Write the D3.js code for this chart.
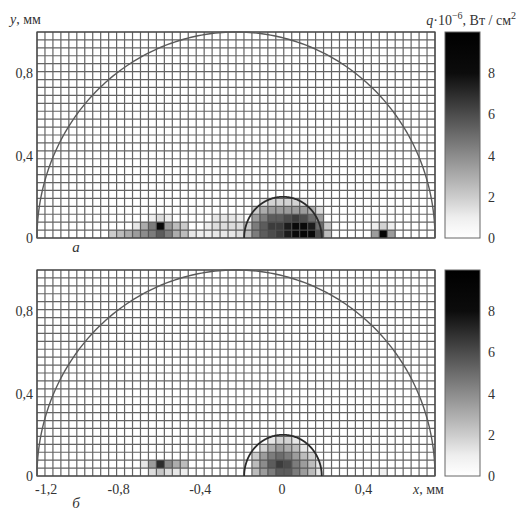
<!DOCTYPE html>
<html><head><meta charset="utf-8">
<script src="https://cdn.jsdelivr.net/npm/d3@7"></script>
<style>
html,body{margin:0;padding:0;background:#fff;}
svg{display:block;}
text{font-family:"Liberation Serif","DejaVu Serif",serif;fill:#333;}
</style></head>
<body>
<svg id="chart" width="517" height="517"></svg>
<script>
// ---- data ----
const xDomain = [-1.2, 0.75];
const yDomain = [0, 1.0];
const nCols = 50, nRows = 26;
const xTicks = [-1.2, -0.8, -0.4, 0, 0.4];
const xTickLabels = ["-1,2", "-0,8", "-0,4", "0", "0,4"];
const yTicks = [0, 0.4, 0.8];
const yTickLabels = ["0", "0,4", "0,8"];
const cbTicks = [0, 2, 4, 6, 8];
const cbDomain = [0, 10];
const panelLetters = ["а", "б"];
// outer semicircle (centre x, radius in x, radius in y) and inner one
const bigArc = {cx: -0.225, rx: 0.975, ry: 1.0};
const smallArc = {cx: 0.005, rx: 0.19, ry: 0.2};
// [column, row, q*1e-6] for shaded cells (others are 0)
const cellsA = [
  [9,0,2],[10,0,2.5],[11,0,3],[12,0,3.5],[13,0,4],[14,0,4.5],[15,0,5.5],[16,0,4.5],[17,0,3],[18,0,2.5],[19,0,1.2],
  [12,1,1.2],[13,1,3],[14,1,4.5],[15,1,8.5],[16,1,3.5],[17,1,2.5],[18,1,2],
  [14,2,1],[15,2,1.5],[16,2,1],
  [20,0,1],[21,0,1],[22,0,1.2],[23,0,1.2],[24,0,1.2],[25,0,1.5],
  [21,1,1],[22,1,1.5],[23,1,1.5],[24,1,1.5],[25,1,1.5],
  [22,2,1.2],[23,2,1.2],[24,2,1.2],[25,2,1],
  [26,0,2.5],[27,0,4.5],[28,0,5.5],[29,0,6],[30,0,6.5],[31,0,7.5],[32,0,8.5],[33,0,9],[34,0,8.5],[35,0,6],[36,0,2.5],
  [26,1,2],[27,1,4.5],[28,1,5.5],[29,1,6.5],[30,1,6.5],[31,1,7.5],[32,1,8.5],[33,1,8.5],[34,1,7.5],[35,1,5],[36,1,2],
  [27,2,3.5],[28,2,4.5],[29,2,5.5],[30,2,5.5],[31,2,6],[32,2,6.5],[33,2,6],[34,2,5],[35,2,3.5],
  [27,3,2],[28,3,3],[29,3,3.5],[30,3,3.5],[31,3,3.5],[32,3,3.5],[33,3,3.5],[34,3,3],[35,3,1.5],
  [28,4,1.2],[29,4,1.8],[30,4,1.8],[31,4,1.8],[32,4,1.8],[33,4,1.2],
  [42,0,3.5],[43,0,9.5],[44,0,3.5],[42,1,1],[43,1,1.8],[44,1,1]
];
const cellsB = [
  [14,0,1.5],[15,0,2.2],[16,0,1.5],[17,0,1.2],[18,0,1],
  [13,1,1.2],[14,1,3.5],[15,1,7],[16,1,4],[17,1,3],[18,1,2.5],
  [27,0,2.5],[28,0,3.5],[29,0,4.5],[30,0,5.5],[31,0,5.5],[32,0,4.5],[33,0,3.5],[34,0,2.5],[35,0,1.2],
  [27,1,2.5],[28,1,4],[29,1,5.5],[30,1,6.5],[31,1,6],[32,1,4.5],[33,1,3.5],[34,1,2.5],[35,1,1.2],
  [27,2,2],[28,2,3.5],[29,2,4.5],[30,2,5],[31,2,4.5],[32,2,3.5],[33,2,2.5],[34,2,1.8],
  [28,3,1.8],[29,3,3],[30,3,3.5],[31,3,3],[32,3,2.5],[33,3,1.2],
  [29,4,1.2],[30,4,1.8],[31,4,1.8],[32,4,1.2],
  [43,0,0.8]
];

// ---- drawing ----
const svg = d3.select("#chart");
const colour = d3.scaleLinear()
  .domain([0, 1, 2, 4, 6, 8, 10])
  .range(["#ffffff", "#eeeeee", "#cccccc", "#8c8c8c", "#4c4c4c", "#0c0c0c", "#000000"])
  .clamp(true);

const panels = [
  {cells: cellsA, top: 32, bottom: 238, letter: panelLetters[0], letterY: 252, showX: false},
  {cells: cellsB, top: 270, bottom: 476, letter: panelLetters[1], letterY: 508, showX: true}
];
const plotLeft = 37, plotRight = 435;
const cbLeft = 445, cbRight = 480;

const defs = svg.append("defs");
const grad = defs.append("linearGradient").attr("id", "cbgrad")
  .attr("x1", 0).attr("x2", 0).attr("y1", 1).attr("y2", 0);
d3.range(0, 10.01, 0.5).forEach(v => {
  grad.append("stop").attr("offset", v / 10).attr("stop-color", colour(v));
});

panels.forEach((p, pi) => {
  const x = d3.scaleLinear().domain(xDomain).range([plotLeft, plotRight]);
  const y = d3.scaleLinear().domain(yDomain).range([p.bottom, p.top]);
  const dx = (xDomain[1] - xDomain[0]) / nCols;
  const dy = (yDomain[1] - yDomain[0]) / nRows;
  const g = svg.append("g");

  g.append("g").selectAll("rect").data(p.cells).join("rect")
    .attr("x", d => x(xDomain[0] + d[0] * dx))
    .attr("y", d => y(yDomain[0] + (d[1] + 1) * dy))
    .attr("width", d => x(xDomain[0] + (d[0] + 1) * dx) - x(xDomain[0] + d[0] * dx))
    .attr("height", d => y(yDomain[0] + d[1] * dy) - y(yDomain[0] + (d[1] + 1) * dy))
    .attr("fill", d => colour(d[2]));

  const grid = g.append("g").attr("stroke", "#4a4a4a").attr("stroke-width", 1.2).attr("opacity", 0.85);
  grid.selectAll("line.v").data(d3.range(nCols + 1)).join("line").attr("class", "v")
    .attr("x1", i => x(xDomain[0] + i * dx)).attr("x2", i => x(xDomain[0] + i * dx))
    .attr("y1", y(yDomain[0])).attr("y2", y(yDomain[1]));
  grid.selectAll("line.h").data(d3.range(nRows + 1)).join("line").attr("class", "h")
    .attr("y1", j => y(yDomain[0] + j * dy)).attr("y2", j => y(yDomain[0] + j * dy))
    .attr("x1", x(xDomain[0])).attr("x2", x(xDomain[1]));

  g.append("rect").attr("x", x(xDomain[0])).attr("y", y(yDomain[1]))
    .attr("width", x(xDomain[1]) - x(xDomain[0])).attr("height", y(yDomain[0]) - y(yDomain[1]))
    .attr("fill", "none").attr("stroke", "#444").attr("stroke-width", 1.2);

  const arcLine = (a) => d3.line()
    .x(t => x(a.cx + a.rx * Math.cos(t)))
    .y(t => y(a.ry * Math.sin(t)))(d3.range(0, Math.PI + 0.001, Math.PI / 180));
  g.append("path").attr("d", arcLine(bigArc)).attr("fill", "none")
    .attr("stroke", "#5a5a5a").attr("stroke-width", 1.4);
  g.append("path").attr("d", arcLine(smallArc)).attr("fill", "none")
    .attr("stroke", "#2a2a2a").attr("stroke-width", 1.8);

  // y tick labels
  g.selectAll("text.yt").data(yTicks).join("text").attr("class", "yt")
    .attr("x", plotLeft - 4).attr("y", d => y(d) + 5)
    .attr("text-anchor", "end").attr("font-size", 14)
    .text((d, i) => yTickLabels[i]);

  // colour bar
  const cy = d3.scaleLinear().domain(cbDomain).range([p.bottom, p.top]);
  g.append("rect").attr("x", cbLeft).attr("y", cy(cbDomain[1]))
    .attr("width", cbRight - cbLeft).attr("height", cy(cbDomain[0]) - cy(cbDomain[1]))
    .attr("fill", "url(#cbgrad)").attr("stroke", "#666").attr("stroke-width", 1);
  g.selectAll("text.ct").data(cbTicks).join("text").attr("class", "ct")
    .attr("x", cbRight + 8).attr("y", d => cy(d) + 5)
    .attr("font-size", 14).text(d => d);

  // panel letter
  g.append("text").attr("x", 76).attr("y", p.letterY)
    .attr("text-anchor", "middle").attr("font-size", 15).attr("font-style", "italic")
    .text(p.letter);

  if (p.showX) {
    g.selectAll("text.xt").data(xTicks).join("text").attr("class", "xt")
      .attr("x", (d, i) => i === 0 ? x(d) - 2 : x(d))
      .attr("y", p.bottom + 18)
      .attr("text-anchor", (d, i) => i === 0 ? "start" : "middle")
      .attr("font-size", 14).text((d, i) => xTickLabels[i]);
    const xl = g.append("text").attr("x", 413).attr("y", p.bottom + 18).attr("font-size", 14);
    xl.append("tspan").attr("font-style", "italic").text("x");
    xl.append("tspan").text(", мм");
  }
});

// axis titles
const yl = svg.append("text").attr("x", 10).attr("y", 24).attr("font-size", 14);
yl.append("tspan").attr("font-style", "italic").text("y");
yl.append("tspan").text(", мм");

const ct = svg.append("text").attr("x", 516).attr("y", 25).attr("text-anchor", "end").attr("font-size", 14);
ct.append("tspan").attr("font-style", "italic").text("q");
ct.append("tspan").text("·10");
ct.append("tspan").attr("dy", -6).attr("font-size", 10).text("−6");
ct.append("tspan").attr("dy", 6).text(", Вт / см");
ct.append("tspan").attr("dy", -6).attr("font-size", 10).text("2");
</script>
</body></html>
